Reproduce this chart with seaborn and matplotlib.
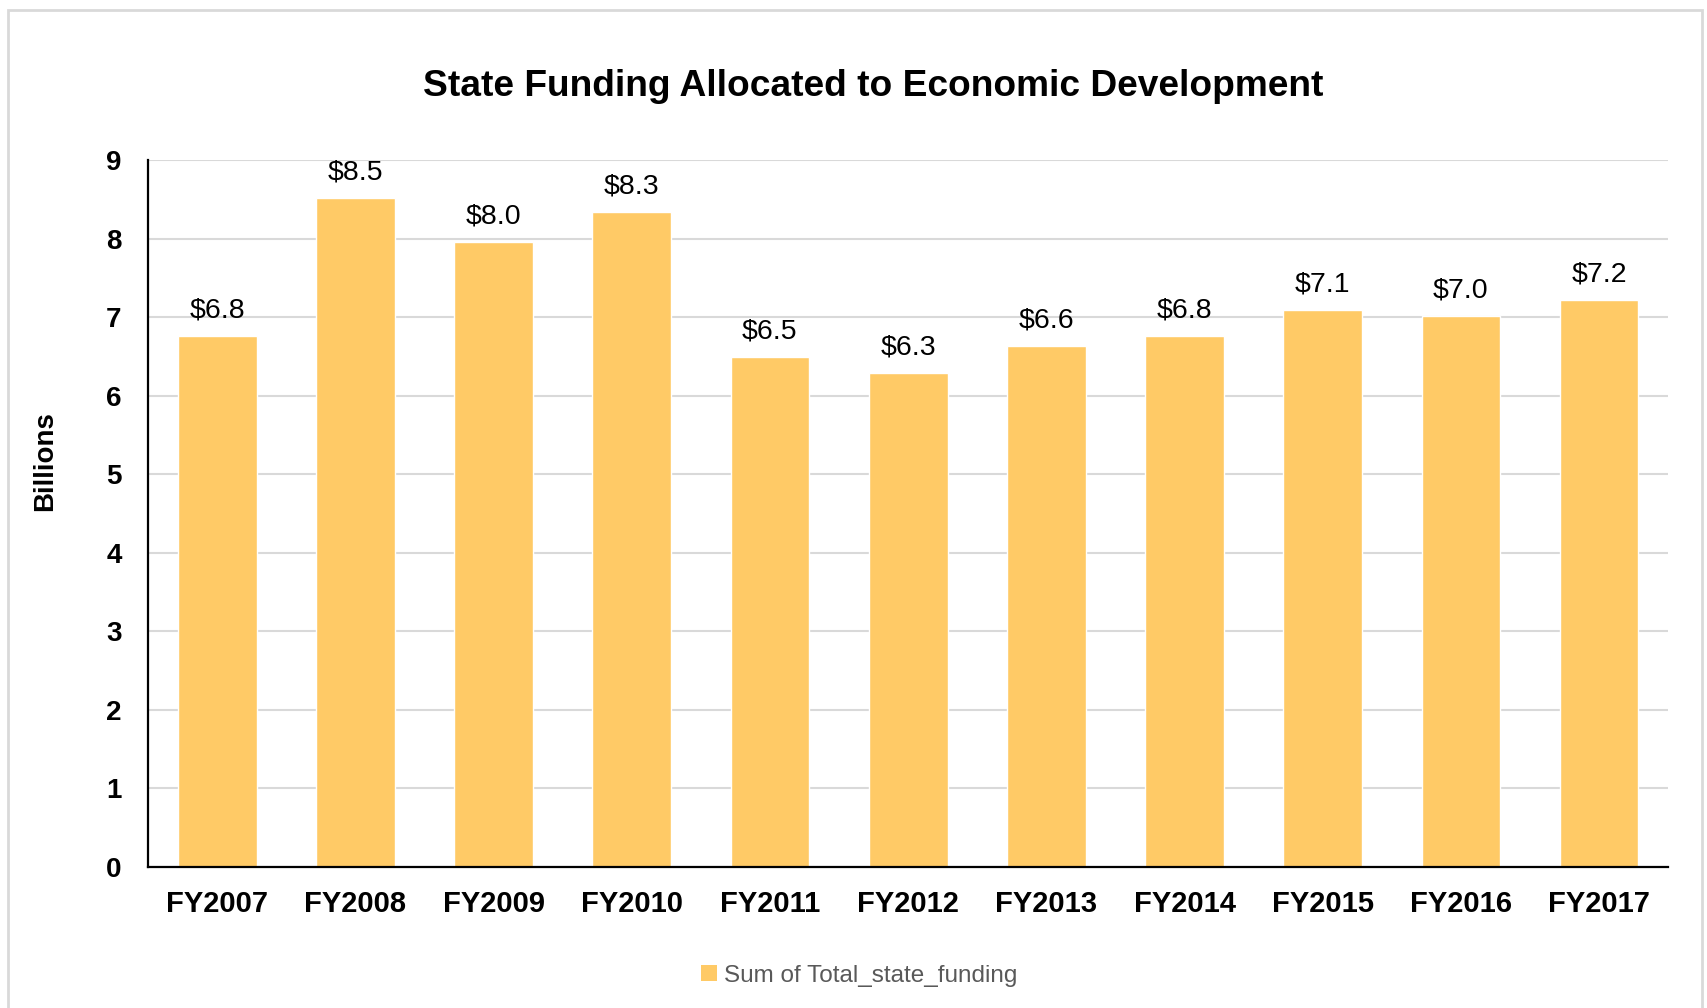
import matplotlib
matplotlib.use("Agg")
import matplotlib.pyplot as plt
import seaborn as sns
import pandas as pd
from matplotlib.patches import Rectangle, Patch

categories = ["FY2007", "FY2008", "FY2009", "FY2010", "FY2011", "FY2012",
              "FY2013", "FY2014", "FY2015", "FY2016", "FY2017"]
values = [6.76, 8.52, 7.96, 8.34, 6.49, 6.29, 6.63, 6.76, 7.09, 7.02, 7.22]
labels = ["$6.8", "$8.5", "$8.0", "$8.3", "$6.5", "$6.3", "$6.6", "$6.8", "$7.1", "$7.0", "$7.2"]
yticks = [0, 1, 2, 3, 4, 5, 6, 7, 8, 9]

sns.set_theme(style="white")
plt.rcParams['font.family'] = ['Liberation Sans', 'DejaVu Sans']
plt.rcParams['text.color'] = 'black'
plt.rcParams['axes.labelcolor'] = 'black'
plt.rcParams['xtick.color'] = 'black'
plt.rcParams['ytick.color'] = 'black'

df = pd.DataFrame({"Year": categories, "Funding": values})
bar_color = "#FFCA66"

fig = plt.figure(figsize=(17.08, 10.08), dpi=100)
ax = fig.add_axes([0.0867, 0.140, 0.890, 0.701])

sns.barplot(data=df, x="Year", y="Funding", color=bar_color, width=0.57,
            saturation=1, ax=ax, zorder=3)

ax.set_ylim(0, 9)
ax.set_xlim(-0.5, len(categories) - 0.5)
ax.set_yticks(yticks)
ax.set_yticklabels([str(t) for t in yticks], fontsize=20, fontweight='bold')
ax.tick_params(axis='x', labelsize=21, pad=17, length=0)
ax.tick_params(axis='y', pad=19, length=0)
for lab in ax.get_xticklabels():
    lab.set_fontweight('bold')
ax.yaxis.grid(True, color="#D9D9D9", linewidth=1.5, zorder=0)
ax.set_axisbelow(True)
for s in ["top", "right"]:
    ax.spines[s].set_visible(False)
for s in ["left", "bottom"]:
    ax.spines[s].set_color("black")
    ax.spines[s].set_linewidth(1.6)
    ax.spines[s].set_zorder(4)

ax.set_xlabel("")
ax.set_ylabel("Billions", fontsize=20, fontweight='bold')
ax.yaxis.set_label_coords(-0.059, 0.574)

for p, lab in zip(ax.patches, labels):
    ax.annotate(lab, (p.get_x() + p.get_width() / 2, p.get_height()),
                xytext=(0, 9), textcoords="offset points",
                ha="center", va="bottom", fontsize=20.5, color="black")

fig.text(0.511, 0.914, "State Funding Allocated to Economic Development",
         ha="center", va="center", fontsize=26.7, fontweight='bold')

handle = Patch(facecolor=bar_color, edgecolor='none')
fig.legend([handle], ["Sum of Total_state_funding"], loc="center",
           bbox_to_anchor=(0.503, 0.032), frameon=False, fontsize=17.5,
           labelcolor="#595959", handlelength=0.65, handleheight=0.65,
           handletextpad=0.3)

fig.patches.append(Rectangle((0.0045, -0.01), 0.992, 1.0, transform=fig.transFigure,
                             fill=False, edgecolor="#D9D9D9", linewidth=2))

fig.savefig("out.png", dpi=100)
